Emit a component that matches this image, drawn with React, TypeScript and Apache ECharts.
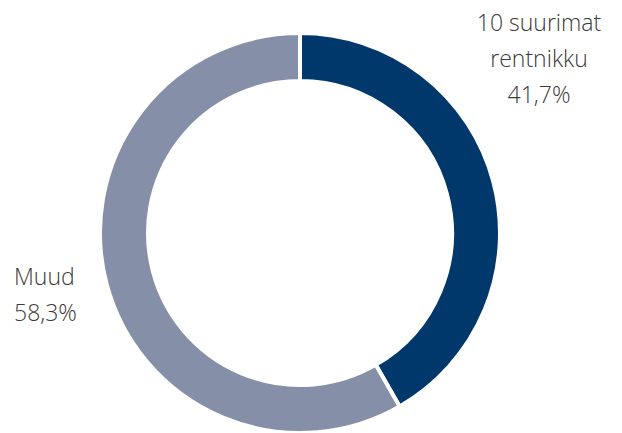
import React, { useEffect, useRef } from "react";
import * as echarts from "echarts";

const categories = ["10 suurimat rentnikku", "Muud"];
const labelTexts = ["10 suurimat\nrentnikku", "Muud"];
const values = [41.7, 58.3];
const colors = ["#00386B", "#858FA8"];

export default function App() {
  const ref = useRef<HTMLDivElement>(null);
  useEffect(() => {
    if (!ref.current) return;
    const chart = echarts.init(ref.current, null, { renderer: "svg" });
    chart.setOption({
      animation: false,
      series: [
        {
          type: "pie",
          center: [300, 233],
          radius: [152, 200],
          startAngle: 90,
          clockwise: true,
          data: categories.map((c, i) => ({
            name: c,
            value: values[i],
            itemStyle: { color: colors[i] },
            label: {
              formatter: () => labelTexts[i] + "\n" + values[i].toFixed(1).replace(".", ",") + "%",
            },
          })),
          itemStyle: { borderColor: "#ffffff", borderWidth: 4 },
          label: {
            show: true,
            position: "outside",
            fontFamily: "Open Sans",
            fontWeight: 300,
            fontSize: 23,
            lineHeight: 36,
            color: "#3a3a3a",
            align: "center",
            overflow: "none",
            width: 300,
          },
          labelLine: { show: false },
          labelLayout: (params: any) => {
            if (params.dataIndex === 0) {
              return { x: 539, y: 58, align: "center", verticalAlign: "middle" };
            }
            return { x: 14, y: 294, align: "left", verticalAlign: "middle" };
          },
          emphasis: { disabled: true },
        },
      ],
    });
    return () => chart.dispose();
  }, []);
  return (
    <div
      ref={ref}
      style={{ position: "absolute", left: 0, top: 0, width: 622, height: 433 }}
    />
  );
}
